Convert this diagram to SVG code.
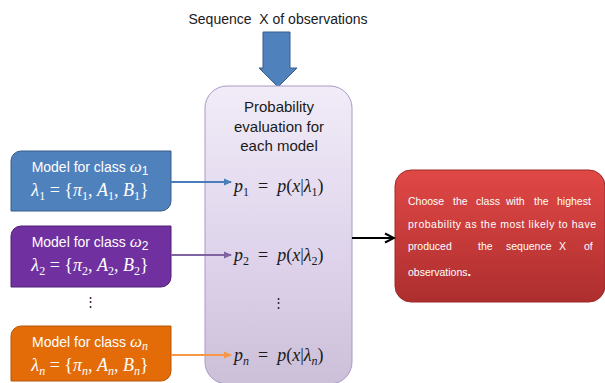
<svg xmlns="http://www.w3.org/2000/svg" width="605" height="383" viewBox="0 0 605 383">
  <defs>
    <linearGradient id="evalFill" x1="0" y1="0" x2="0" y2="1">
      <stop offset="0" stop-color="#f1ecf8"/>
      <stop offset="0.6" stop-color="#ddd2ea"/>
      <stop offset="1" stop-color="#cbc0d8"/>
    </linearGradient>
    <linearGradient id="redFill" x1="0" y1="0" x2="0" y2="1">
      <stop offset="0" stop-color="#e04846"/>
      <stop offset="1" stop-color="#ad2e2e"/>
    </linearGradient>
    <marker id="arrBlue" markerWidth="8" markerHeight="8" refX="7" refY="4" orient="auto" markerUnits="userSpaceOnUse">
      <path d="M0,0.5 L8,4 L0,7.5 Z" fill="#4a7ebb"/>
    </marker>
    <marker id="arrPurple" markerWidth="8" markerHeight="8" refX="7" refY="4" orient="auto" markerUnits="userSpaceOnUse">
      <path d="M0,0.5 L8,4 L0,7.5 Z" fill="#8064a2"/>
    </marker>
    <marker id="arrOrange" markerWidth="8" markerHeight="8" refX="7" refY="4" orient="auto" markerUnits="userSpaceOnUse">
      <path d="M0,0.5 L8,4 L0,7.5 Z" fill="#f79646"/>
    </marker>
    <marker id="arrBlack" markerWidth="12" markerHeight="12" refX="10" refY="6" orient="auto" markerUnits="userSpaceOnUse">
      <path d="M1,1.5 L10,6 L1,10.5" fill="none" stroke="#000" stroke-width="2"/>
    </marker>
  </defs>
  <style>
    .sans { font-family: "Liberation Sans", Arial, sans-serif; }
    .math { font-family: "Liberation Serif", "DejaVu Serif", serif; font-style: italic; }
    .up { font-style: normal; }
    .sub { font-size: 12px; }
    .box-label { font-size: 14px; fill: #ffffff; text-anchor: middle; }
    .lam { font-size: 18px; fill: #ffffff; text-anchor: middle; }
    .eval-label { font-size: 15px; fill: #1a1a1a; text-anchor: middle; }
    .eq { font-size: 18px; fill: #1a1a1a; }
    .conn { fill: none; stroke-width: 2; }
  </style>

  <rect width="605" height="383" fill="#ffffff"/>

  <!-- input title and block arrow -->
  <g id="input">
    <text class="sans" x="278" y="24" font-size="14" fill="#1a1a1a" text-anchor="middle" xml:space="preserve">Sequence  X of observations</text>
    <path d="M263,32 H290 V68 H297 L278,87 L259,68 H263 Z" fill="#4f81bd" stroke="#385d8a" stroke-width="1"/>
  </g>

  <!-- central evaluation box -->
  <g id="evaluation">
    <rect x="205" y="86" width="147" height="298" rx="22" fill="url(#evalFill)" stroke="#a899c4" stroke-width="1"/>
    <text class="sans eval-label" x="279" y="112">Probability</text>
    <text class="sans eval-label" x="279" y="132">evaluation for</text>
    <text class="sans eval-label" x="279" y="151">each model</text>
    <text class="math eq" x="234" y="192" xml:space="preserve">p<tspan class="sub up" dy="4">1</tspan><tspan class="up" dy="-4">  =  </tspan>p<tspan class="up">(</tspan>x<tspan class="up">|</tspan>λ<tspan class="sub up" dy="4">1</tspan><tspan class="up" dy="-4">)</tspan></text>
    <text class="math eq" x="234" y="261" xml:space="preserve">p<tspan class="sub up" dy="4">2</tspan><tspan class="up" dy="-4">  =  </tspan>p<tspan class="up">(</tspan>x<tspan class="up">|</tspan>λ<tspan class="sub up" dy="4">2</tspan><tspan class="up" dy="-4">)</tspan></text>
    <text class="sans" x="278" y="307" font-size="13" fill="#1a1a1a" text-anchor="middle">⋮</text>
    <text class="math eq" x="234" y="361" xml:space="preserve">p<tspan class="sub" dy="4">n</tspan><tspan class="up" dy="-4">  =  </tspan>p<tspan class="up">(</tspan>x<tspan class="up">|</tspan>λ<tspan class="sub" dy="4">n</tspan><tspan class="up" dy="-4">)</tspan></text>
  </g>

  <!-- model boxes -->
  <g id="model-1">
    <path d="M21,151 H171 V201 A10,10 0 0 1 161,211 H11 V161 A10,10 0 0 1 21,151 Z" fill="#4f81bd" stroke="#385d8a" stroke-width="1"/>
    <text class="sans box-label" x="90" y="172">Model for class <tspan class="math" font-size="17">ω</tspan><tspan class="sub" dy="3">1</tspan></text>
    <text class="math lam" x="90" y="196" xml:space="preserve">λ<tspan class="sub up" dy="4">1</tspan><tspan class="up" dy="-4"> = {</tspan>π<tspan class="sub up" dy="4">1</tspan><tspan class="up" dy="-4">, </tspan>A<tspan class="sub up" dy="4">1</tspan><tspan class="up" dy="-4">, </tspan>B<tspan class="sub up" dy="4">1</tspan><tspan class="up" dy="-4">}</tspan></text>
  </g>
  <g id="model-2">
    <path d="M21,226 H171 V277 A10,10 0 0 1 161,287 H11 V236 A10,10 0 0 1 21,226 Z" fill="#7030a0" stroke="#4f2270" stroke-width="1"/>
    <text class="sans box-label" x="90" y="247">Model for class <tspan class="math" font-size="17">ω</tspan><tspan class="sub" dy="3">2</tspan></text>
    <text class="math lam" x="90" y="271" xml:space="preserve">λ<tspan class="sub up" dy="4">2</tspan><tspan class="up" dy="-4"> = {</tspan>π<tspan class="sub up" dy="4">2</tspan><tspan class="up" dy="-4">, </tspan>A<tspan class="sub up" dy="4">2</tspan><tspan class="up" dy="-4">, </tspan>B<tspan class="sub up" dy="4">2</tspan><tspan class="up" dy="-4">}</tspan></text>
  </g>
  <text class="sans" x="90" y="306" font-size="13" fill="#1a1a1a" text-anchor="middle">⋮</text>
  <g id="model-n">
    <path d="M21,326 H171 V371 A10,10 0 0 1 161,381 H11 V336 A10,10 0 0 1 21,326 Z" fill="#e36c09" stroke="#b65708" stroke-width="1"/>
    <text class="sans box-label" x="90" y="347">Model for class <tspan class="math" font-size="17">ω</tspan><tspan class="sub math" dy="3">n</tspan></text>
    <text class="math lam" x="90" y="371" xml:space="preserve">λ<tspan class="sub" dy="4">n</tspan><tspan class="up" dy="-4"> = {</tspan>π<tspan class="sub" dy="4">n</tspan><tspan class="up" dy="-4">, </tspan>A<tspan class="sub" dy="4">n</tspan><tspan class="up" dy="-4">, </tspan>B<tspan class="sub" dy="4">n</tspan><tspan class="up" dy="-4">}</tspan></text>
  </g>

  <!-- decision box -->
  <g id="decision">
    <rect x="395" y="170" width="210" height="132" rx="16" fill="url(#redFill)" stroke="#9c2a2a" stroke-width="1"/>
    <g class="sans" font-size="10.5" fill="#ffffff">
      <text y="205"><tspan x="408">Choose</tspan><tspan x="453">the</tspan><tspan x="476">class</tspan><tspan x="506">with</tspan><tspan x="534">the</tspan><tspan x="557">highest</tspan></text>
      <text x="408" y="228" textLength="188" lengthAdjust="spacing">probability as the most likely to have</text>
      <text y="250"><tspan x="408">produced</tspan><tspan x="478">the</tspan><tspan x="506">sequence</tspan><tspan x="559">X</tspan><tspan x="584">of</tspan></text>
      <text x="408" y="276">observations<tspan font-size="13" font-weight="bold">.</tspan></text>
    </g>
  </g>

  <!-- connectors -->
  <g id="connectors">
    <line class="conn" x1="171" y1="182" x2="231" y2="182" stroke="#4a7ebb" marker-end="url(#arrBlue)"/>
    <line class="conn" x1="171" y1="255" x2="231" y2="255" stroke="#8064a2" marker-end="url(#arrPurple)"/>
    <line class="conn" x1="171" y1="355" x2="231" y2="355" stroke="#f79646" marker-end="url(#arrOrange)"/>
    <line class="conn" x1="352" y1="238" x2="394" y2="238" stroke="#000000" marker-end="url(#arrBlack)"/>
  </g>
</svg>
